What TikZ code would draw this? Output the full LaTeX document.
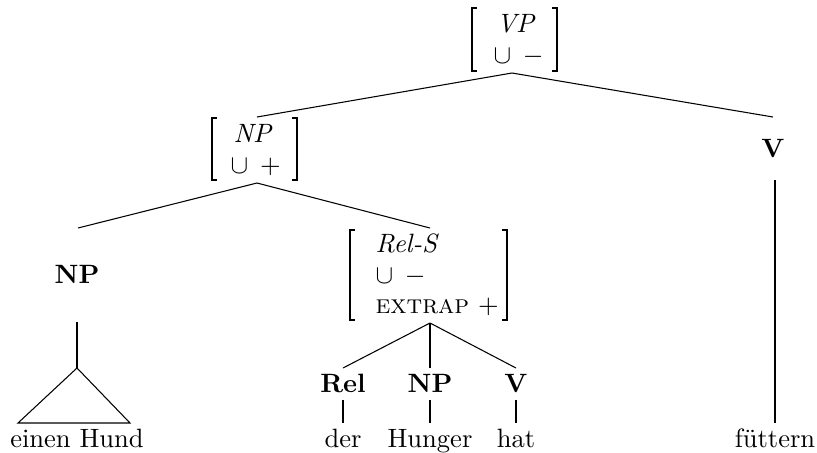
\documentclass[tikz,border=0pt]{standalone}
\begin{document}
\begin{tikzpicture}[x=0.377pt,y=-0.377pt,
  branch/.style={line width=0.4pt},
  stem/.style={line width=0.8pt},
  brk/.style={line width=0.8pt},
  lab/.style={inner sep=0pt,anchor=base},
  avm/.style={inner sep=0pt,anchor=base west}]
\useasboundingbox (0,0) rectangle (817,452);
% VP AVM
\node[avm] (vp) at (496,32) {\textit{VP}};
\node[avm] (vpu) at (493,63) {$\cup\;\,-$};
\draw[brk] (477,8) -- (472,8) -- (472,71) -- (477,71);
\draw[brk] (552,8) -- (557,8) -- (557,71) -- (552,71);
\coordinate (vpbot) at (512,73);
% NP AVM
\node[avm] (np) at (233,142) {\textit{NP}};
\node[avm] (npu) at (230,173) {$\cup\;\,+$};
\draw[brk] (217,118) -- (212,118) -- (212,180) -- (217,180);
\draw[brk] (292,118) -- (297,118) -- (297,180) -- (292,180);
\coordinate (nptop) at (257,117);
\coordinate (npbot) at (257,183);
% V right
\node[lab] (vr) at (773,157) {\textbf{V}};
\coordinate (vrtop) at (773,117);
\coordinate (vrs) at (775,180);
\coordinate (vre) at (775,423);
\node[lab] (fuettern) at (775,447) {füttern};
% NP left
\node[lab] (npl) at (77,283) {\textbf{NP}};
\coordinate (npltop) at (78,228);
\coordinate (npls) at (77,322);
\coordinate (apex) at (77,368);
\coordinate (tl) at (18,423);
\coordinate (tr) at (130,423);
\node[lab] (hund) at (77,447) {einen Hund};
% Rel-S AVM
\node[avm] (rels) at (375,252) {\textit{Rel-S}};
\node[avm] (relsu) at (375,283) {$\cup\;\,-$};
\node[avm] (extrap) at (375,313) {\textsc{extrap} $+$};
\draw[brk] (355,230) -- (350,230) -- (350,320) -- (355,320);
\draw[brk] (502,230) -- (507,230) -- (507,320) -- (502,320);
\coordinate (relstop) at (430,228);
\coordinate (relsbot) at (430,323);
% terminals under Rel-S
\node[lab] (rel) at (343,392) {\textbf{Rel}};
\node[lab] (np2) at (430,392) {\textbf{NP}};
\node[lab] (v2) at (516,392) {\textbf{V}};
\coordinate (relt) at (343,368);
\coordinate (np2t) at (430,368);
\coordinate (v2t) at (516,368);
\node[lab] (der) at (343,447) {der};
\node[lab] (hunger) at (430,447) {Hunger};
\node[lab] (hat) at (516,447) {hat};
\coordinate (a1) at (343,400); \coordinate (a2) at (343,423);
\coordinate (b1) at (430,400); \coordinate (b2) at (430,423);
\coordinate (c1) at (516,400); \coordinate (c2) at (516,423);
% branches
\draw[branch] (vpbot) -- (nptop);
\draw[branch] (vpbot) -- (vrtop);
\draw[branch] (npbot) -- (npltop);
\draw[branch] (npbot) -- (relstop);
\draw[branch] (relsbot) -- (relt);
\draw[branch] (relsbot) -- (np2t);
\draw[branch] (relsbot) -- (v2t);
\draw[stem] (vrs) -- (vre);
\draw[stem] (npls) -- (apex);
\draw[branch] (apex) -- (tl) -- (tr) -- cycle;
\draw[stem] (a1) -- (a2);
\draw[stem] (b1) -- (b2);
\draw[stem] (c1) -- (c2);
\end{tikzpicture}
\end{document}
